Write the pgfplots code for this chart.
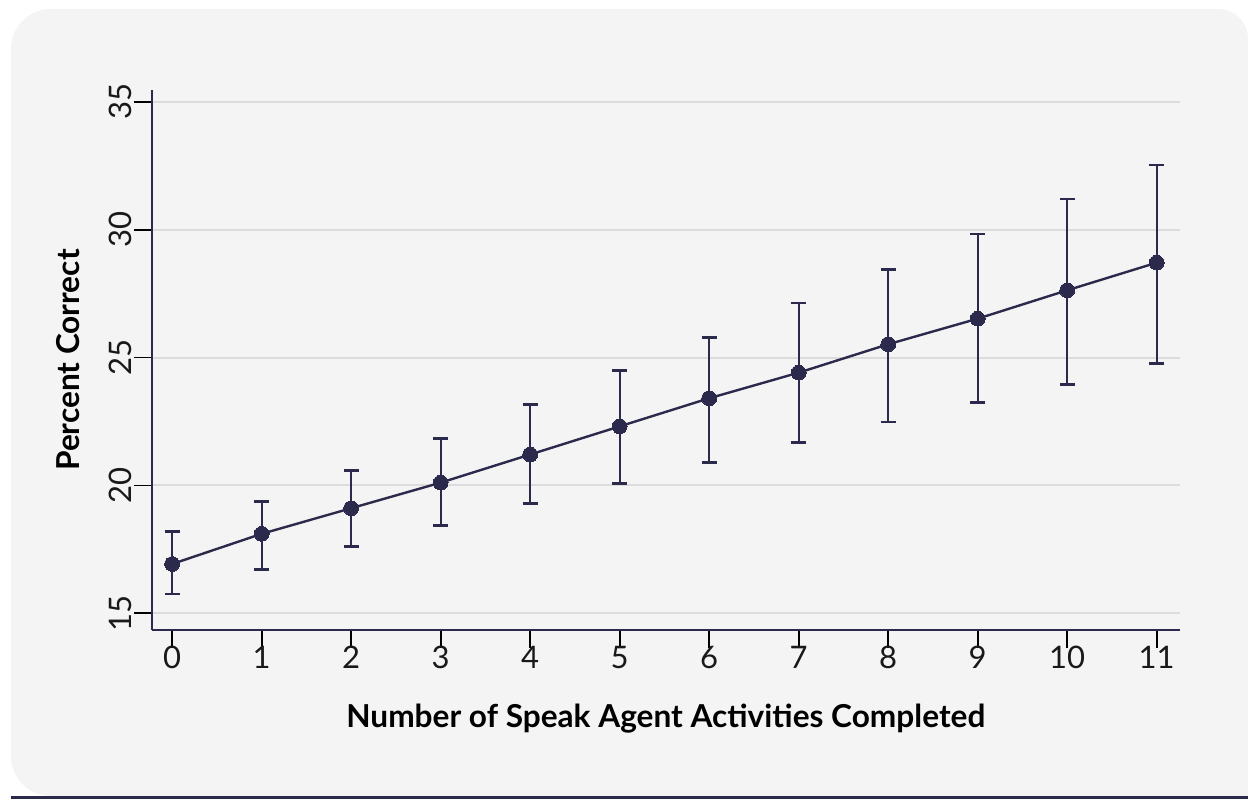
\documentclass[border=0pt]{standalone}
\usepackage{fontspec}
\setmainfont{Lato}
\usepackage{pgfplots}
\pgfplotsset{compat=1.18}
\usepackage{pgfplotstable}
\definecolor{navy}{HTML}{2B2A4C}
\definecolor{panel}{HTML}{F4F4F4}
\definecolor{gridc}{HTML}{DCDCDC}

% activities, percent correct, CI above / below
\pgfplotstableread{
x  y     ep   em
0  16.93 1.27 1.17
1  18.11 1.27 1.40
2  19.11 1.48 1.51
3  20.11 1.72 1.66
4  21.21 1.95 1.90
5  22.31 2.18 2.23
6  23.41 2.37 2.52
7  24.41 2.72 2.74
8  25.52 2.93 3.04
9  26.52 3.31 3.29
10 27.63 3.57 3.67
11 28.71 3.82 3.93
}\datatable

\begin{document}
\begin{tikzpicture}
\fill[white] (0,0) rectangle (624pt,399.5pt);
\useasboundingbox (0,0) rectangle (624pt,399.5pt);
\fill[panel] (624pt,1.5pt) -- (25.5pt,1.5pt) arc(270:180:20pt) -- (5.5pt,375pt)
  arc(180:90:20pt) -- (609pt,395pt) arc(90:0:15pt) -- cycle;
\fill[navy] (5.5pt,0pt) rectangle (624pt,1.6pt);
\begin{axis}[
  at={(76pt,84.5pt)}, anchor=south west,
  scale only axis, width=513.75pt, height=270pt,
  xmin=-0.225, xmax=11.255, ymin=14.35, ymax=35.46,
  axis lines*=left,
  axis line style={-, draw=navy, line width=1.3pt},
  xtick={0,1,...,11}, ytick={15,20,...,35},
  tick align=outside,
  major tick length=9pt,
  tick style={black, line width=0.9pt},
  ymajorgrids, grid style={gridc, line width=1pt},
  /pgf/number format/assume math mode=true,
  ticklabel style={font=\fontsize{15.5}{17}\selectfont, text=black!90},
  yticklabel style={rotate=90, anchor=south, inner sep=1pt},
  xticklabel style={inner sep=1pt, yshift=2pt},
  xlabel={Number of Speak Agent Activities Completed},
  ylabel={Percent Correct},
  label style={font=\bfseries\fontsize{15.8}{18}\selectfont, inner sep=0pt},
  xlabel style={at={(axis description cs:0.5,0)}, anchor=north, yshift=-37pt},
  ylabel style={at={(axis description cs:-0.07,0.5)}, anchor=south},
  clip=false,
]
\addplot[navy, line width=1.2pt, mark=*, mark size=3.7pt,
  mark options={fill=navy, draw=navy, line width=0pt},
  error bars/.cd, y dir=both, y explicit,
  error bar style={navy, line width=1pt},
  error mark options={rotate=90, mark size=3.8pt, line width=1.4pt, navy}]
  table[x=x, y=y, y error plus=ep, y error minus=em] \datatable;
\end{axis}
\end{tikzpicture}
\end{document}
